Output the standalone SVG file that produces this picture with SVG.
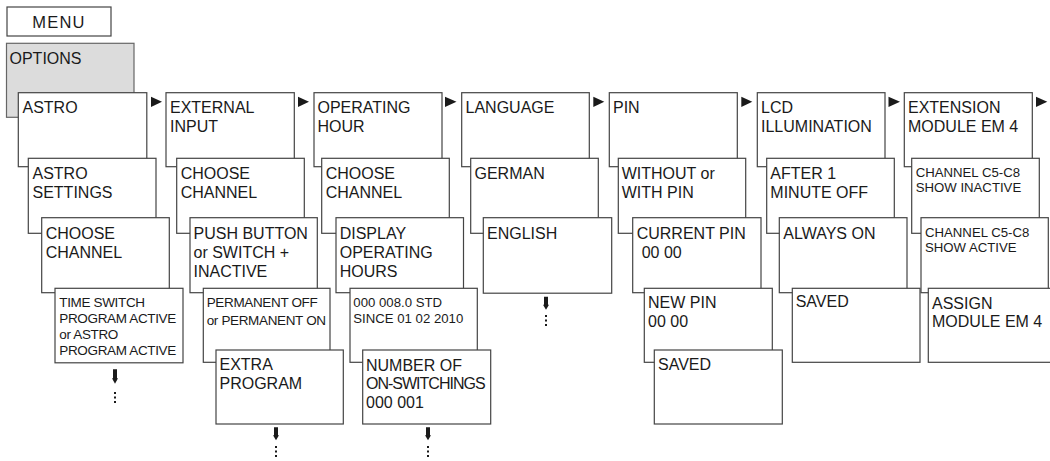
<svg xmlns="http://www.w3.org/2000/svg" width="1050" height="461" viewBox="0 0 1050 461">
<style>
.b{fill:#fff;stroke:#444;stroke-width:1.2}
.g{fill:#dcdcdc;stroke:#666;stroke-width:1.2}
text{font-family:"Liberation Sans",Arial,sans-serif;font-size:16px;fill:#1a1a1a}
.s{font-size:13.5px;letter-spacing:-0.35px}
.t{font-size:13.2px}
.a{fill:#1a1a1a}
</style>
<rect width="1050" height="461" fill="#fff"/>
<g id="menu"><rect class="b" x="7" y="7" width="104" height="29"/><text x="59" y="28.3" text-anchor="middle" style="font-size:16.5px;letter-spacing:1.2px">MENU</text></g>
<g id="options"><rect class="g" x="6.5" y="43.3" width="127.5" height="74"/><text x="9.5" y="64">OPTIONS</text></g>

<g id="astro"><rect class="b" x="18.3" y="92.7" width="128.5" height="74"/><text x="22.5" y="113.3">ASTRO</text></g>
<g id="astro-settings"><rect class="b" x="28.3" y="158.3" width="127.7" height="75"/><text x="32.5" y="179.3">ASTRO</text><text x="32.5" y="197.7">SETTINGS</text></g>
<g id="astro-choose"><rect class="b" x="41.7" y="217.7" width="127.6" height="75"/><text x="45.7" y="239.3">CHOOSE</text><text x="45.7" y="257.7">CHANNEL</text></g>
<g id="astro-program"><rect class="b" x="55" y="288.3" width="128" height="74.5"/><text class="s" x="59.3" y="307.3">TIME SWITCH</text><text class="s" x="59.3" y="322.9">PROGRAM ACTIVE</text><text class="s" x="59.3" y="338.7">or ASTRO</text><text class="s" x="59.3" y="355">PROGRAM ACTIVE</text></g>

<g id="ext"><rect class="b" x="166" y="92.7" width="128.3" height="74"/><text x="170" y="113.3">EXTERNAL</text><text x="170" y="131.7">INPUT</text></g>
<g id="ext-choose"><rect class="b" x="176.7" y="158.3" width="127.6" height="75"/><text x="180.7" y="179">CHOOSE</text><text x="180.7" y="198.3">CHANNEL</text></g>
<g id="ext-push"><rect class="b" x="190" y="217.7" width="127.3" height="75"/><text x="193.5" y="239">PUSH BUTTON</text><text x="193.5" y="258.3">or SWITCH +</text><text x="193.5" y="276.7">INACTIVE</text></g>
<g id="ext-perm"><rect class="b" x="203.3" y="288.3" width="126.7" height="74"/><text class="s" x="206.7" y="307.3">PERMANENT OFF</text><text class="s" x="206.7" y="325">or PERMANENT ON</text></g>
<g id="ext-extra"><rect class="b" x="216" y="350" width="127.3" height="74"/><text x="219.5" y="370">EXTRA</text><text x="219.5" y="389">PROGRAM</text></g>

<g id="op"><rect class="b" x="314" y="92.7" width="128" height="74"/><text x="317.5" y="113.3">OPERATING</text><text x="317.5" y="131.7">HOUR</text></g>
<g id="op-choose"><rect class="b" x="321.7" y="158.3" width="127.6" height="75"/><text x="325.7" y="179">CHOOSE</text><text x="325.7" y="198.3">CHANNEL</text></g>
<g id="op-display"><rect class="b" x="336" y="217.7" width="127.5" height="75"/><text x="339.7" y="239">DISPLAY</text><text x="339.7" y="258.3">OPERATING</text><text x="339.7" y="276.7">HOURS</text></g>
<g id="op-std"><rect class="b" x="350" y="288.3" width="127.3" height="74"/><text class="t" x="353.3" y="307.3">000 008.0 STD</text><text class="t" x="353.3" y="323.3">SINCE 01 02 2010</text></g>
<g id="op-number"><rect class="b" x="362.7" y="350" width="128" height="74"/><text x="366" y="370.7">NUMBER OF</text><text x="366" y="389.3" style="letter-spacing:-1px">ON-SWITCHINGS</text><text x="366" y="407.7">000 001</text></g>

<g id="lang"><rect class="b" x="461.7" y="92.7" width="127.6" height="74"/><text x="465.5" y="113.3">LANGUAGE</text></g>
<g id="lang-german"><rect class="b" x="470.7" y="158.3" width="127.6" height="75"/><text x="474.5" y="179">GERMAN</text></g>
<g id="lang-english"><rect class="b" x="483.3" y="217.7" width="128.4" height="75.5"/><text x="487" y="239">ENGLISH</text></g>

<g id="pin"><rect class="b" x="609.3" y="92.7" width="128" height="74"/><text x="613" y="113.3">PIN</text></g>
<g id="pin-with"><rect class="b" x="618.3" y="158.3" width="127.4" height="75"/><text x="621.7" y="179">WITHOUT or</text><text x="621.7" y="198.3">WITH PIN</text></g>
<g id="pin-current"><rect class="b" x="632.7" y="217.7" width="128.3" height="75"/><text x="636.7" y="239">CURRENT PIN</text><text x="641.7" y="258.3">00 00</text></g>
<g id="pin-new"><rect class="b" x="644.3" y="288.3" width="128" height="74"/><text x="648" y="307.7">NEW PIN</text><text x="648" y="327">00 00</text></g>
<g id="pin-saved"><rect class="b" x="654.3" y="350" width="128" height="74"/><text x="658" y="370">SAVED</text></g>

<g id="lcd"><rect class="b" x="757.3" y="92.7" width="127.7" height="74"/><text x="761" y="113.3">LCD</text><text x="761" y="131.7">ILLUMINATION</text></g>
<g id="lcd-after"><rect class="b" x="766.7" y="158.3" width="127.6" height="75"/><text x="770.3" y="179">AFTER 1</text><text x="770.3" y="198.3">MINUTE OFF</text></g>
<g id="lcd-always"><rect class="b" x="779.3" y="217.7" width="127.7" height="75"/><text x="783.3" y="239">ALWAYS ON</text></g>
<g id="lcd-saved"><rect class="b" x="792.3" y="288.3" width="127.7" height="74"/><text x="795.7" y="307.3">SAVED</text></g>

<g id="em"><rect class="b" x="904.3" y="92.7" width="128" height="74"/><text x="908" y="113.3">EXTENSION</text><text x="908" y="131.7">MODULE EM 4</text></g>
<g id="em-inactive"><rect class="b" x="911.7" y="158.3" width="127.6" height="75"/><text class="t" x="915.7" y="176.7">CHANNEL C5-C8</text><text class="t" x="915.7" y="192.3">SHOW INACTIVE</text></g>
<g id="em-active"><rect class="b" x="921" y="217.7" width="127.3" height="75"/><text class="t" x="925" y="236.7">CHANNEL C5-C8</text><text class="t" x="925" y="252.3">SHOW ACTIVE</text></g>
<g id="em-assign"><rect class="b" x="928.3" y="288.3" width="128" height="74"/><text x="932" y="309">ASSIGN</text><text x="932" y="327.3">MODULE EM 4</text></g>

<g id="connectors">
<polygon class="a" points="151,96.7 151,107 162,101.8"/>
<polygon class="a" points="298,96.7 298,107 309,101.8"/>
<polygon class="a" points="445,96.7 445,107 456.5,101.8"/>
<polygon class="a" points="593.3,96.7 593.3,107 604.3,101.8"/>
<polygon class="a" points="741.3,96.7 741.3,107 752.3,101.8"/>
<polygon class="a" points="888.5,96.7 888.5,107 900,101.8"/>
<polygon class="a" points="1036,96.7 1036,107 1047.3,101.8"/>
<path class="a" d="M113,369.3h4v9h1l-3,5.4l-3,-5.4h1z"/>
<rect class="a" x="114" y="392" width="2" height="2"/><rect class="a" x="114" y="396.5" width="2" height="2"/><rect class="a" x="114" y="401" width="2" height="2"/>
<path class="a" d="M274,427.3h4v8h1l-3,5l-3,-5h1z"/>
<rect class="a" x="275" y="446" width="2" height="2"/><rect class="a" x="275" y="450.5" width="2" height="2"/><rect class="a" x="275" y="455" width="2" height="2"/>
<path class="a" d="M426,427.3h4v8h1l-3,5l-3,-5h1z"/>
<rect class="a" x="427" y="446" width="2" height="2"/><rect class="a" x="427" y="450.5" width="2" height="2"/><rect class="a" x="427" y="455" width="2" height="2"/>
<path class="a" d="M544,296.7h4v8h1l-3,5l-3,-5h1z"/>
<rect class="a" x="545" y="315" width="2" height="2"/><rect class="a" x="545" y="319.5" width="2" height="2"/><rect class="a" x="545" y="324" width="2" height="2"/>
</g>
</svg>
